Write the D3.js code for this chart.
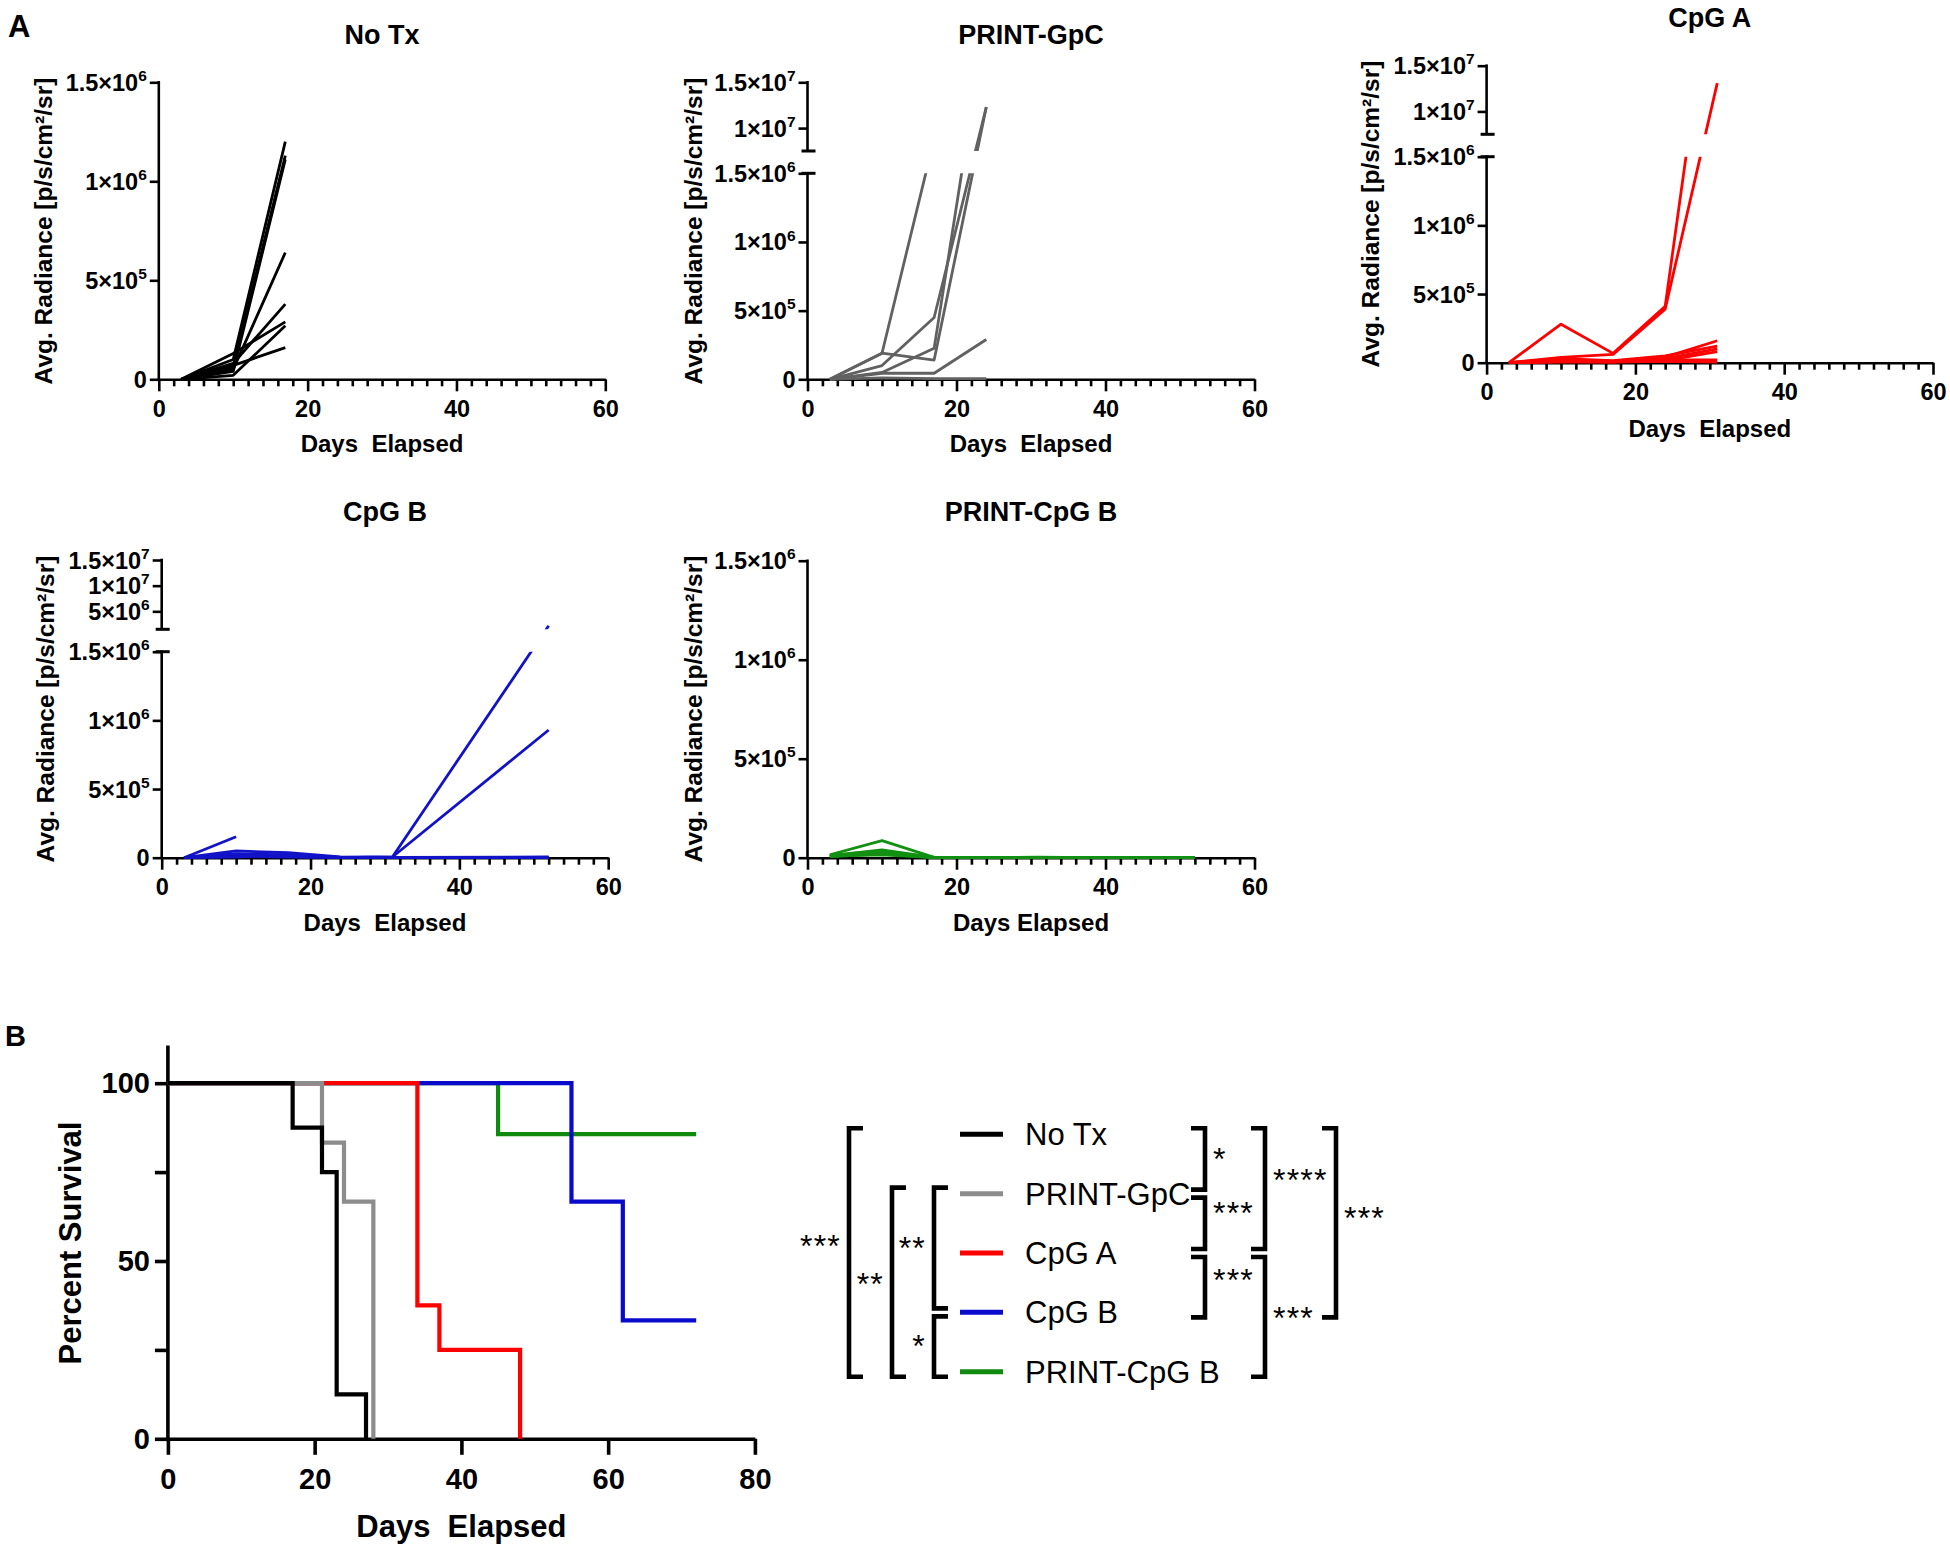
<!DOCTYPE html>
<html><head><meta charset="utf-8">
<script src="https://cdn.jsdelivr.net/npm/d3@7"></script>
<style>
body{margin:0;background:#fff}
svg{display:block;font-family:"Liberation Sans",Arial,Helvetica,sans-serif}
</style></head><body>
<svg id="chart" width="1950" height="1550"></svg>
<script>
// ================= DATA =================
const groups = ["No Tx", "PRINT-GpC", "CpG A", "CpG B", "PRINT-CpG B"];
const groupColors = ["#000000", "#8c8c8c", "#ff0000", "#0a0acc", "#0f8a0f"];
const radianceLineColors = ["#000000", "#616161", "#ff0000", "#1212c8", "#119011"];
const xTicksRadiance = [0, 20, 40, 60];
const yTicksLower = [0, 5e5, 1e6, 1.5e6];

// No Tx radiance (days 3,10,17)
const noTxDays = [3, 10, 17];
const noTxValues = [
  [0, 1.0e5, 1.20e6],
  [0, 6.0e4, 1.13e6],
  [0, 4.0e4, 1.11e6],
  [0, 5.0e4, 6.4e5],
  [0, 8.0e4, 3.8e5],
  [0, 1.3e5, 2.9e5],
  [0, 2.0e4, 2.7e5],
  [0, 7.0e4, 1.6e5]
];
// PRINT-GpC radiance
const gpcDays = [[3,10,16],[3,10,17,24],[3,10,17,24],[3,10,17,21],[3,10,17,24],[3,10,17,24]];
const gpcValues = [
  [0, 1.9e5, 2.5e6],
  [0, 1.9e5, 1.4e5, 1.23e7],
  [0, 1.0e5, 4.5e5, 1.23e7],
  [0, 5.0e4, 2.26e5, 5.5e6],
  [0, 4.4e4, 4.4e4, 2.9e5],
  [0, 1.0e4, 5.0e3, 5.0e3]
];
// CpG A radiance
const cpgADays = [[3,10,17,24,27],[3,10,17,24,31],[3,10,17,24,31],[3,10,17,24,31],[3,10,17,24,31],[3,10,17,24,31],[3,10,17,24,31],[3,10,17,24,31]];
const cpgAValues = [
  [0, 2.8e5, 6.8e4, 4.1e5, 4.4e6],
  [0, 3.9e4, 6.0e4, 3.9e5, 1.31e7],
  [0, 2.0e4, 1.0e4, 4.0e4, 1.6e5],
  [0, 3.0e4, 1.5e4, 5.0e4, 1.2e5],
  [0, 1.0e4, 5.0e3, 3.0e4, 1.0e5],
  [0, 2.0e4, 1.0e4, 2.0e4, 2.0e4],
  [0, 5.0e3, 5.0e3, 1.0e4, 5.0e3],
  [0, 1.0e4, 8.0e3, 1.5e4, 8.0e4]
];
// CpG B radiance
const cpgBDays = [[3,10],[3,10,17,24,31,52],[3,10,17,24,31,52],[3,10,17,24,31,52],[3,10,17,24,31,52],[3,10,17,24,31,52]];
const cpgBValues = [
  [0, 1.53e5],
  [0, 3.0e4, 2.0e4, 2.0e3, 5.0e3, 2.2e6],
  [0, 2.0e4, 1.0e4, 1.0e3, 5.0e3, 9.3e5],
  [0, 4.9e4, 3.6e4, 5.0e3, 3.0e3, 5.0e3],
  [0, 1.0e4, 5.0e3, 0, 0, 0],
  [0, 5.0e3, 2.0e4, 3.0e3, 2.0e3, 2.0e3]
];
// PRINT-CpG B radiance
const printDays = [3, 10, 17, 24, 31, 38, 45, 52];
const printValues = [
  [1.5e4, 8.6e4, 2.0e3, 0, 0, 0, 0, 0],
  [1.0e4, 3.9e4, 2.0e3, 0, 2.0e3, 0, 0, 0],
  [5.0e3, 3.0e4, 0, 0, 3.0e3, 0, 0, 0],
  [1.0e4, 2.5e4, 0, 0, 0, 0, 0, 0],
  [5.0e3, 2.0e4, 0, 0, 0, 0, 0, 0],
  [8.0e3, 1.5e4, 0, 0, 0, 0, 0],
  [1.2e4, 3.5e4, 1.0e3, 0, 2.0e3, 0, 0, 0]
];

// Survival (Kaplan-Meier steps)
const survDays = [
  [0, 17, 21, 23, 27],
  [0, 21, 24, 28],
  [0, 34, 37, 48],
  [0, 55, 62, 72],
  [0, 45, 72]
];
const survPct = [
  [100, 87.5, 75, 12.5, 0],
  [100, 83.3, 66.7, 0],
  [100, 37.5, 25, 0],
  [100, 66.7, 33.3, 33.3],
  [100, 85.7, 85.7]
];
const survXTicks = [0, 20, 40, 60, 80];
const survYTicks = [0, 25, 50, 75, 100];
const survYLabels = [0, 50, 100];

// Pairwise comparisons (group indices)
const comparisons = [
  {a: 0, b: 4, label: "***",  side: "left",  level: 0},
  {a: 1, b: 4, label: "**",   side: "left",  level: 1},
  {a: 1, b: 3, label: "**",   side: "left",  level: 2},
  {a: 3, b: 4, label: "*",    side: "left",  level: 2},
  {a: 0, b: 1, label: "*",    side: "right", level: 0},
  {a: 1, b: 2, label: "***",  side: "right", level: 0},
  {a: 2, b: 3, label: "***",  side: "right", level: 0},
  {a: 0, b: 2, label: "****", side: "right", level: 1},
  {a: 2, b: 4, label: "***",  side: "right", level: 1},
  {a: 0, b: 3, label: "***",  side: "right", level: 2}
];

// ================= DRAW =================
const svg = d3.select("#chart");
const zip = (days, vals) => vals.map((v, i) => [days[i], v]);

function sciLabel(sel, v, fs) {
  if (v === 0) { sel.text("0"); return; }
  const e = Math.floor(Math.log10(v) + 1e-9);
  const m = Math.round(v / Math.pow(10, e) * 10) / 10;
  sel.append("tspan").text(m + "\u00D710");
  sel.append("tspan").attr("dy", -fs * 0.42).style("font-size", (fs * 0.66) + "px").text(e);
}

const panels = [
  {g: 0, days: noTxValues.map(() => noTxDays), values: noTxValues, x0: 158.8, x1: 605.3, yBase: 379.3, lowerTop: 82.3,
   upper: null, titleY: 44, yLabelX: 51.8, yLabelCY: 231, xLabelY: 452, xLabel: "Days\u00A0 Elapsed"},
  {g: 1, days: gpcDays, values: gpcValues, x0: 807.5, x1: 1254.5, yBase: 379.3, lowerTop: 173.3,
   upper: {bottomVal: 7.5e6, bottomY: 151, topY: 82.3, ticks: [1e7, 1.5e7]},
   titleY: 44, yLabelX: 701.8, yLabelCY: 231, xLabelY: 452, xLabel: "Days\u00A0 Elapsed"},
  {g: 2, days: cpgADays, values: cpgAValues, x0: 1486.6, x1: 1933, yBase: 362.7, lowerTop: 156.7,
   upper: {bottomVal: 7.5e6, bottomY: 134.3, topY: 65.7, ticks: [1e7, 1.5e7]},
   titleY: 27, yLabelX: 1378.8, yLabelCY: 214, xLabelY: 437, xLabel: "Days\u00A0 Elapsed"},
  {g: 3, days: cpgBDays, values: cpgBValues, x0: 161.7, x1: 608.2, yBase: 857.7, lowerTop: 651.7,
   upper: {bottomVal: 1.5e6 + 1, bottomY: 629.3, topY: 560, ticks: [5e6, 1e7, 1.5e7]},
   titleY: 521, yLabelX: 53.9, yLabelCY: 709, xLabelY: 931, xLabel: "Days\u00A0 Elapsed"},
  {g: 4, days: printValues.map(() => printDays), values: printValues, x0: 807.5, x1: 1254.5, yBase: 857.7, lowerTop: 560.7,
   upper: null, titleY: 521, yLabelX: 701.8, yLabelCY: 709, xLabelY: 931, xLabel: "Days Elapsed"}
];

const AX = 2.6;
const TICK_FS = 23.5;
panels.forEach((p, pi) => {
  const g = svg.append("g");
  const x = d3.scaleLinear().domain([0, 60]).range([p.x0, p.x1]);
  const y = p.upper
    ? d3.scaleLinear().domain([0, 1.5e6, p.upper.bottomVal, 1.5e7]).range([p.yBase, p.lowerTop, p.upper.bottomY, p.upper.topY])
    : d3.scaleLinear().domain([0, 1.5e6]).range([p.yBase, p.lowerTop]);

  // clip (broken axis segments)
  const clipId = "clip" + pi;
  const cp = svg.append("clipPath").attr("id", clipId);
  cp.append("rect").attr("x", p.x0 - 5).attr("width", p.x1 - p.x0 + 10)
    .attr("y", y(1.5e6)).attr("height", p.yBase - y(1.5e6) + 6);
  if (p.upper) {
    cp.append("rect").attr("x", p.x0 - 5).attr("width", p.x1 - p.x0 + 10)
      .attr("y", y(1.5e7) - 1).attr("height", y(p.upper.bottomVal) - y(1.5e7) + 1);
  }

  // x axis: minor ticks then major
  g.append("g").attr("transform", `translate(0,${p.yBase})`)
    .call(d3.axisBottom(x).tickValues(d3.range(0, 61, 2).filter(d => d % 20 !== 0)).tickSize(7).tickSizeOuter(0).tickFormat(""))
    .call(s => s.select(".domain").remove())
    .call(s => s.selectAll("line").attr("stroke", "#000").attr("stroke-width", AX));
  g.append("g").attr("transform", `translate(0,${p.yBase})`)
    .call(d3.axisBottom(x).tickValues(xTicksRadiance).tickSize(12).tickSizeOuter(0).tickPadding(9))
    .call(s => s.select(".domain").attr("stroke", "#000").attr("stroke-width", AX))
    .call(s => s.selectAll("line").attr("stroke", "#000").attr("stroke-width", AX))
    .call(s => s.selectAll("text").attr("fill", "#000").style("font-size", TICK_FS + "px").style("font-weight", "bold")
      .style("font-family", '"Liberation Sans",Arial,sans-serif'));

  // y axis ticks
  const yTicks = p.upper ? yTicksLower.concat(p.upper.ticks) : yTicksLower;
  g.append("g").attr("transform", `translate(${p.x0},0)`)
    .call(d3.axisLeft(y).tickValues(yTicks).tickSize(9).tickFormat(""))
    .call(s => s.select(".domain").remove())
    .call(s => s.selectAll("line").attr("stroke", "#000").attr("stroke-width", AX));
  // y axis lines
  const ySegs = p.upper ? [[0, 1.5e6], [p.upper.bottomVal, 1.5e7]] : [[0, 1.5e6]];
  ySegs.forEach(s => {
    g.append("line").attr("x1", p.x0).attr("x2", p.x0)
      .attr("y1", y(s[0]) + (s[0] === 0 ? AX / 2 : 0)).attr("y2", y(s[1]) - AX / 2)
      .attr("stroke", "#000").attr("stroke-width", AX);
  });
  if (p.upper) {
    [1.5e6, p.upper.bottomVal].forEach(v => {
      g.append("line").attr("x1", p.x0 - 6).attr("x2", p.x0 + 8).attr("y1", y(v)).attr("y2", y(v))
        .attr("stroke", "#000").attr("stroke-width", AX + 0.4);
    });
  }
  // y tick labels
  yTicks.forEach(v => {
    const t = g.append("text").attr("x", p.x0 - 12).attr("y", y(v) + 8.5)
      .attr("text-anchor", "end").style("font-size", TICK_FS + "px").style("font-weight", "bold");
    sciLabel(t, v, TICK_FS);
  });

  // lines
  const lg = g.append("g").attr("clip-path", `url(#${clipId})`);
  const line = d3.line().x(d => x(d[0])).y(d => y(d[1]));
  p.values.forEach((vals, i) => {
    lg.append("path").attr("d", line(zip(p.days[i], vals)))
      .attr("fill", "none").attr("stroke", radianceLineColors[p.g]).attr("stroke-width", 2.8)
      .attr("stroke-linejoin", "round");
  });

  // titles & labels
  g.append("text").attr("x", (p.x0 + p.x1) / 2).attr("y", p.titleY).attr("text-anchor", "middle")
    .style("font-size", "27px").style("font-weight", "bold").text(groups[p.g]);
  g.append("text").attr("x", (p.x0 + p.x1) / 2).attr("y", p.xLabelY).attr("text-anchor", "middle")
    .style("font-size", "24px").style("font-weight", "bold").text(p.xLabel);
  g.append("text").attr("transform", `translate(${p.yLabelX},${p.yLabelCY}) rotate(-90)`).attr("text-anchor", "middle")
    .style("font-size", "24.5px").style("font-weight", "bold").text("Avg. Radiance [p/s/cm\u00B2/sr]");
});

// panel letters
svg.append("text").attr("x", 8).attr("y", 37).style("font-size", "31px").style("font-weight", "bold").text("A");
svg.append("text").attr("x", 5).attr("y", 1046).style("font-size", "29px").style("font-weight", "bold").text("B");

// ================= SURVIVAL =================
const sx = d3.scaleLinear().domain([0, 80]).range([167.9, 754.9]);
const sy = d3.scaleLinear().domain([0, 100]).range([1438.8, 1083.2]);
const SAX = 3.6;
const sg = svg.append("g");
sg.append("g").attr("transform", `translate(0,${sy(0)})`)
  .call(d3.axisBottom(sx).tickValues(survXTicks).tickSize(16).tickSizeOuter(0).tickPadding(14))
  .call(s => s.select(".domain").attr("stroke", "#000").attr("stroke-width", SAX))
  .call(s => s.selectAll("line").attr("stroke", "#000").attr("stroke-width", SAX))
  .call(s => s.selectAll("text").attr("fill", "#000").style("font-size", "29px").style("font-weight", "bold")
    .style("font-family", '"Liberation Sans",Arial,sans-serif'));
sg.append("g").attr("transform", `translate(${sx(0)},0)`)
  .call(d3.axisLeft(sy).tickValues(survYTicks).tickSize(13).tickPadding(5)
    .tickFormat(d => survYLabels.includes(d) ? d : ""))
  .call(s => s.select(".domain").remove())
  .call(s => s.selectAll("line").attr("stroke", "#000").attr("stroke-width", SAX))
  .call(s => s.selectAll("text").attr("fill", "#000").style("font-size", "29px").style("font-weight", "bold")
    .style("font-family", '"Liberation Sans",Arial,sans-serif'));
sg.append("line").attr("x1", sx(0)).attr("x2", sx(0)).attr("y1", sy(0) + SAX / 2).attr("y2", sy(110.6))
  .attr("stroke", "#000").attr("stroke-width", SAX);

const stepLine = d3.line().x(d => sx(d[0])).y(d => sy(d[1])).curve(d3.curveStepAfter);
[4, 3, 2, 1, 0].forEach(i => {
  sg.append("path").attr("d", stepLine(zip(survDays[i], survPct[i])))
    .attr("fill", "none").attr("stroke", groupColors[i]).attr("stroke-width", 4.2);
});
sg.append("text").attr("x", (sx(0) + sx(80)) / 2).attr("y", 1537).attr("text-anchor", "middle")
  .style("font-size", "31px").style("font-weight", "bold").text("Days\u00A0 Elapsed");
sg.append("text").attr("transform", `translate(81,1243) rotate(-90)`).attr("text-anchor", "middle")
  .style("font-size", "31px").style("font-weight", "bold").text("Percent Survival");

// legend
const rowY = d3.scaleLinear().domain([0, 4]).range([1134.3, 1371.7]);
groups.forEach((name, i) => {
  sg.append("line").attr("x1", 960).attr("x2", 1003).attr("y1", rowY(i)).attr("y2", rowY(i))
    .attr("stroke", groupColors[i]).attr("stroke-width", 5);
  sg.append("text").attr("x", 1025).attr("y", rowY(i) + 11).style("font-size", "31px").text(name);
});

// comparison brackets
const levelX = {left: [849, 892, 934], right: [1205, 1265, 1336]};
const labelNudge = [-9, 0, -2, -3, -2, -12, -9, -11, -1, -7];
comparisons.forEach((c, ci) => {
  const sameLevel = comparisons.filter(o => o !== c && o.side === c.side && o.level === c.level);
  const startShared = sameLevel.some(o => o.b === c.a);
  const endShared = sameLevel.some(o => o.a === c.b);
  const y1 = rowY(c.a) + (startShared ? 4 : -6);
  const y2 = rowY(c.b) + (endShared ? -4 : 5);
  const vx = levelX[c.side][c.level];
  const dir = c.side === "left" ? 1 : -1;
  sg.append("path")
    .attr("d", `M${vx + dir * 14},${y1}H${vx}V${y2}H${vx + dir * 14}`)
    .attr("fill", "none").attr("stroke", "#000").attr("stroke-width", 4.6);
  const cy = (y1 + y2) / 2 + labelNudge[ci];
  sg.append("text").attr("x", c.side === "left" ? vx - 8 : vx + 8).attr("y", cy + 13)
    .attr("text-anchor", c.side === "left" ? "end" : "start")
    .style("font-size", "32px").style("letter-spacing", "1.2px").text(c.label);
});
</script>
</body></html>
